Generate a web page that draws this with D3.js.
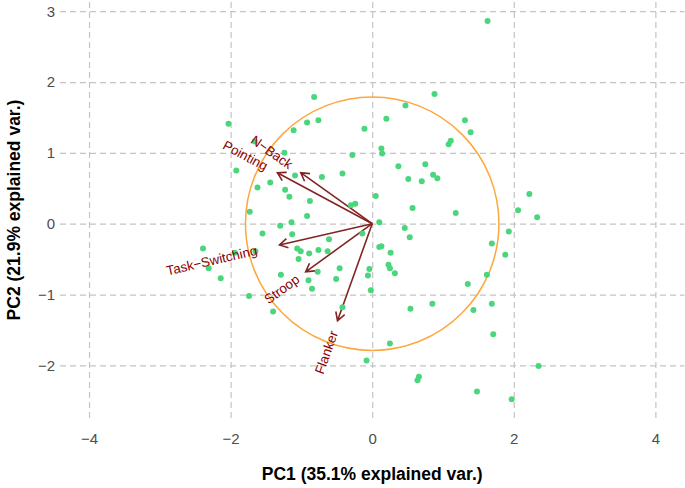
<!DOCTYPE html>
<html>
<head>
<meta charset="utf-8">
<script src="https://cdn.jsdelivr.net/npm/d3@7"></script>
<style>
    body { margin: 0; background: #fff; }
    svg { display: block; font-family: 'Liberation Sans', Arial, sans-serif; }
    .grid line { stroke: #c4c4c4; stroke-width: 1.2; stroke-dasharray: 6,4; }
    .grid .domain { display: none; }
    .grid text { fill: #4d4d4d; font-size: 15px; }
    .axis-title { font-weight: bold; font-size: 17.5px; fill: #000; }
</style>
</head>
<body>
<svg id="chart"></svg>
<script>
// PC scores, one entry per observation
const pc1 = [1.63, -0.82, 0.88, 0.47, -2.03, -0.92, -0.76, 0.20, 1.31, -1.11,
    -0.11, 1.39, -1.66, 1.11, 1.08, -1.24, 0.13, 0.14, -0.28, -1.92,
    -1.09, -0.71, -0.42, 0.37, 0.75, 0.51, 0.70, 0.86, 0.92, -1.62,
    -1.44, -1.23, -1.17, 0.05, -0.88, -0.30, -0.24, 0.57, 2.22, 1.18,
    2.06, 2.33, -1.73, -0.92, -1.30, -1.14, 0.10, 0.46, 0.53, 1.93,
    -1.55, -1.13, -0.14, -0.61, 1.69, -2.39, -1.94, -1.65, -1.06, -1.01,
    -0.89, -0.76, -0.63, -1.04, 0.10, 0.13, 0.26, 1.88, 0.23, 0.25,
    0.32, -2.31, -2.14, -1.29, -0.77, -0.46, -0.04, -0.06, -0.51, -0.90,
    1.62, 1.35, -0.85, -0.02, -1.74, -1.40, -0.42, 0.54, 0.85, 1.43,
    1.69, 1.71, 0.25, -0.08, 2.35, 0.66, 0.64, 1.48, 1.97];
const pc2 = [2.86, 1.79, 1.83, 1.67, 1.41, 1.43, 1.46, 1.48, 1.46, 1.32,
    1.34, 1.29, 1.16, 1.17, 1.12, 1.00, 1.06, 0.99, 0.97, 0.75,
    0.68, 0.66, 0.71, 0.81, 0.84, 0.63, 0.60, 0.69, 0.64, 0.51,
    0.58, 0.48, 0.38, 0.39, 0.32, 0.26, 0.28, 0.22, 0.42, 0.15,
    0.19, 0.09, 0.17, 0.11, -0.03, 0.02, 0.02, -0.06, -0.19, -0.11,
    -0.14, -0.15, -0.14, -0.22, -0.28, -0.35, -0.41, -0.39, -0.35, -0.39,
    -0.42, -0.37, -0.39, -0.50, -0.33, -0.32, -0.41, -0.44, -0.58, -0.63,
    -0.70, -0.63, -0.77, -0.72, -0.68, -0.63, -0.64, -0.73, -0.78, -0.80,
    -0.72, -0.85, -0.92, -0.94, -1.02, -1.24, -1.18, -1.20, -1.13, -1.22,
    -1.13, -1.56, -1.69, -1.93, -2.01, -2.16, -2.21, -2.37, -2.48];

// variable loadings (arrow ends)
const varNames = ['N\u2212Back', 'Pointing', 'Task\u2212Switching', 'Stroop', 'Flanker'];
const loadX = [-1.01, -1.34, -1.31, -0.94, -0.49];
const loadY = [0.72, 0.72, -0.30, -0.68, -1.37];

const xTicks = [-4, -2, 0, 2, 4];
const yTicks = [-2, -1, 0, 1, 2, 3];
const circleRadius = 1.79;

class Biplot {
    constructor(_config) {
        this.config = {
            parentElement: _config.parentElement,
            width: 685,
            height: 488,
            margin: { top: 2, right: 0.6, bottom: 70, left: 60 }
        };
        this.initVis();
    }

    initVis() {
        let vis = this;
        const m = vis.config.margin;
        vis.innerWidth = vis.config.width - m.left - m.right;
        vis.innerHeight = vis.config.height - m.top - m.bottom;

        vis.xScale = d3.scaleLinear().domain([-4.41, 4.41]).range([0, vis.innerWidth]);
        vis.yScale = d3.scaleLinear().domain([-2.743, 3.13]).range([vis.innerHeight, 0]);

        vis.svg = d3.select(vis.config.parentElement)
            .attr('width', vis.config.width)
            .attr('height', vis.config.height);

        vis.chart = vis.svg.append('g')
            .attr('transform', `translate(${m.left},${m.top})`);

        vis.xAxis = d3.axisBottom(vis.xScale)
            .tickValues(xTicks)
            .tickFormat(d3.format('d'))
            .tickSize(-vis.innerHeight)
            .tickPadding(15);
        vis.yAxis = d3.axisLeft(vis.yScale)
            .tickValues(yTicks)
            .tickFormat(d3.format('d'))
            .tickSize(-vis.innerWidth)
            .tickPadding(5);

        vis.renderVis();
    }

    renderVis() {
        let vis = this;
        const x = vis.xScale, y = vis.yScale;

        vis.chart.append('g')
            .attr('class', 'grid')
            .attr('transform', `translate(0,${vis.innerHeight})`)
            .call(vis.xAxis);
        vis.chart.append('g')
            .attr('class', 'grid')
            .call(vis.yAxis);

        // correlation circle
        vis.chart.append('circle')
            .attr('cx', x(0))
            .attr('cy', y(0))
            .attr('r', x(circleRadius) - x(0))
            .attr('fill', 'none')
            .attr('stroke', '#fda73c')
            .attr('stroke-width', 1.5);

        const loadings = varNames.map((name, i) => ({ name: name, lx: loadX[i], ly: loadY[i] }));

        // arrows
        const headLen = 9.4;
        const arrowPath = d => {
            const x0 = x(0), y0 = y(0), x1 = x(d.lx), y1 = y(d.ly);
            const a = Math.atan2(y1 - y0, x1 - x0);
            const p1 = [x1 - headLen * Math.cos(a - Math.PI / 6), y1 - headLen * Math.sin(a - Math.PI / 6)];
            const p2 = [x1 - headLen * Math.cos(a + Math.PI / 6), y1 - headLen * Math.sin(a + Math.PI / 6)];
            return `M${x0},${y0}L${x1},${y1}M${p1[0]},${p1[1]}L${x1},${y1}L${p2[0]},${p2[1]}`;
        };
        vis.chart.selectAll('.arrow')
            .data(loadings)
            .join('path')
            .attr('class', 'arrow')
            .attr('d', arrowPath)
            .attr('fill', 'none')
            .attr('stroke', '#832424')
            .attr('stroke-width', 1.6);

        // observations
        vis.chart.selectAll('.dot')
            .data(pc1.map((v, i) => ({ x: v, y: pc2[i] })))
            .join('circle')
            .attr('class', 'dot')
            .attr('cx', d => x(d.x))
            .attr('cy', d => y(d.y))
            .attr('r', 3)
            .attr('fill', '#4bd67e');

        // variable names, rotated along arrows, hjust = 1.25
        vis.chart.selectAll('.varname')
            .data(loadings)
            .join('text')
            .attr('class', 'varname')
            .attr('transform', d => {
                const ang = Math.atan(d.ly / d.lx) * 180 / Math.PI;
                return `translate(${x(d.lx)},${y(d.ly)}) rotate(${-ang})`;
            })
            .attr('text-anchor', 'end')
            .attr('dy', '0.35em')
            .attr('fill', '#8b0000')
            .style('font-size', '13.4px')
            .text(d => d.name)
            .attr('dx', function() { return -0.25 * this.getComputedTextLength(); });

        // axis titles
        vis.svg.append('text')
            .attr('class', 'axis-title')
            .attr('x', vis.config.margin.left + x(0))
            .attr('y', 480)
            .attr('text-anchor', 'middle')
            .text('PC1 (35.1% explained var.)');
        vis.svg.append('text')
            .attr('class', 'axis-title')
            .attr('transform', `translate(20,${vis.config.margin.top + vis.innerHeight / 2}) rotate(-90)`)
            .attr('text-anchor', 'middle')
            .text('PC2 (21.9% explained var.)');
    }
}

new Biplot({ parentElement: '#chart' });
</script>
</body>
</html>
